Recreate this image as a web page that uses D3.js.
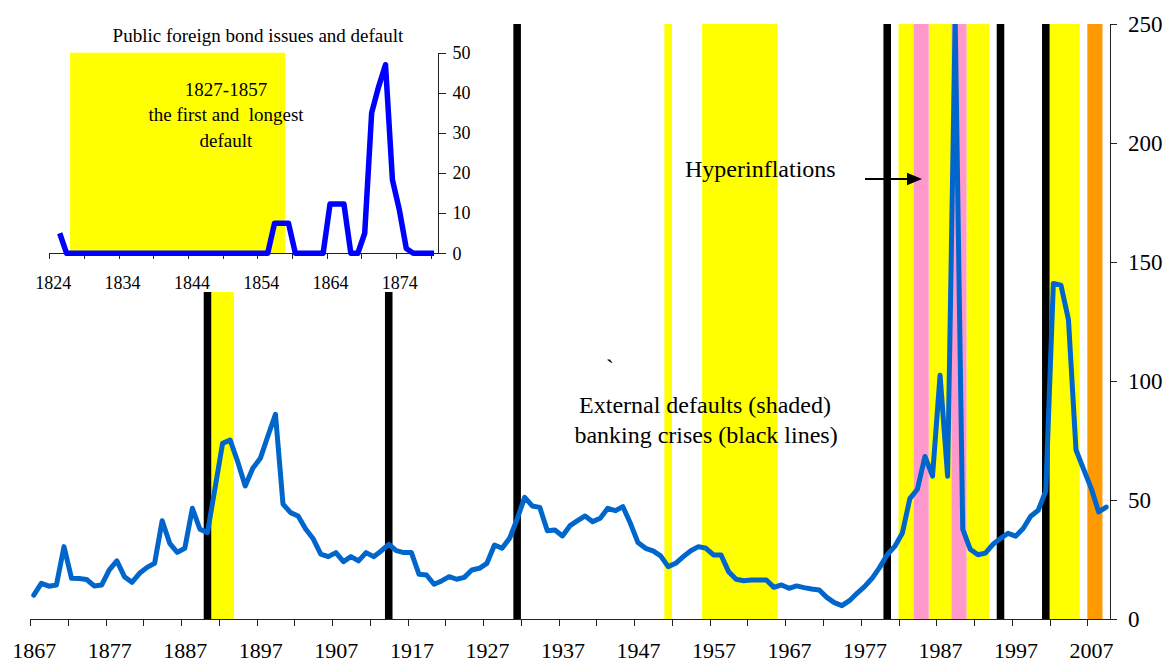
<!DOCTYPE html>
<html>
<head>
<meta charset="UTF-8">
<title></title>
<style>
    body { margin: 0; background: #fff; }
    svg { display: block; font-family: 'Liberation Serif', 'Times New Roman', serif; }
    .axis path, .axis line { stroke: #222; stroke-width: 1; shape-rendering: crispEdges; }
    .axis text { fill: #000; }
    .note { fill: #000; white-space: pre; }
</style>
</head>
<body>
<script src="https://cdn.jsdelivr.net/npm/d3@7/dist/d3.min.js"></script>
<script>
    /// data

    // main series, one value per year from 1867 to 2009
    var mainStart = 1867;
    var mainValues = [
        10, 15, 13.8, 14.3, 30.4, 17.1, 17, 16.6, 13.9, 14.3,        // 1867-1876
        20.6, 24.4, 17.8, 15.4, 19.2, 21.7, 23.4, 41.3, 31.8, 28,    // 1877-1886
        29.7, 46.5, 37.7, 36.3, 55, 73.8, 75.2, 66.1, 55.9, 63.3,    // 1887-1896
        67.5, 76.9, 86, 48.3, 44.7, 43.3, 37.8, 33.7, 27.3, 26.2,    // 1897-1906
        27.9, 24.1, 26.2, 24.4, 27.9, 26.2, 28.6, 31.4, 28.7, 27.9,  // 1907-1916
        27.9, 18.8, 18.5, 14.6, 16, 17.8, 16.7, 17.5, 20.6, 21.3,    // 1917-1926
        23.4, 31.1, 29.7, 33.9, 42, 51.1, 47.5, 46.9, 37.1, 37.4,    // 1927-1936
        34.9, 39.2, 41.3, 43.3, 40.9, 42.3, 46.5, 45.5, 47.2, 40.2,  // 1937-1946
        32.1, 29.7, 28.6, 26.5, 22, 23.4, 26.2, 28.7, 30.4, 29.7,    // 1947-1956
        26.9, 26.9, 19.9, 16.7, 16.1, 16.4, 16.4, 16.4, 13.3, 14.3,  // 1957-1966
        12.9, 13.9, 13.2, 12.6, 12.2, 9.1, 6.9, 5.6, 7.7, 10.8,      // 1967-1976
        13.6, 17.1, 21.7, 27, 30.5, 36, 50.6, 54.5, 68.3, 60,        // 1977-1986
        102.4, 60, 252, 37.8, 29.3, 27, 27.7, 31.4, 33.8, 36,        // 1987-1996
        34.8, 38, 43.2, 45.7, 53.8, 141, 140.3, 125.8, 71, 63,       // 1997-2006
        55, 45, 47                                                   // 2007-2009
    ];
    var mainTickLabels = [1867, 1877, 1887, 1897, 1907, 1917, 1927, 1937, 1947, 1957, 1967, 1977, 1987, 1997, 2007];
    var mainYTicks = [0, 50, 100, 150, 200, 250];

    // episodes (inclusive years)
    var bankingCrises = [1890, 1914, 1931, 1980, 1995, 2001];
    var defaultSpells = [[1891, 1893], [1951, 1951], [1956, 1965], [1982, 1983], [1986, 1988], [1991, 1993], [2002, 2005]];
    var hyperinflationSpells = [[1984, 1985], [1989, 1990]];
    var orangeSpells = [[2007, 2008]];

    // inset: public foreign bond issues, 1825-1879
    var insetStart = 1825;
    var insetValues = [
        5,
        0, 0, 0, 0, 0, 0, 0, 0, 0, 0,        // 1826-1835
        0, 0, 0, 0, 0, 0, 0, 0, 0, 0,        // 1836-1845
        0, 0, 0, 0, 0, 0, 0, 0, 0, 0,        // 1846-1855
        7.5, 7.5, 7.5, 0, 0, 0, 0, 0,        // 1856-1863
        12.3, 12.3, 12.3, 0, 0,              // 1864-1868
        5, 35, 41.5, 47, 18.3, 10.8, 1.2,    // 1869-1875
        0, 0, 0, 0                           // 1876-1879
    ];
    var insetDefault = [1827, 1857];
    var insetTickLabels = [1824, 1834, 1844, 1854, 1864, 1874];
    var insetYTicks = [0, 10, 20, 30, 40, 50];

    var serif = "'Liberation Serif', 'Times New Roman', serif";

    /// layout
    var width = 1168, height = 664;
    var svg = d3.select("body").append("svg")
        .attr("width", width)
        .attr("height", height);

    // category axis: each year is a slot, ticks sit between slots
    var x = d3.scaleLinear().domain([1866.5, 2009.5]).range([30, 1110]);
    var y = d3.scaleLinear().domain([0, 250]).range([619, 24]);

    var main = svg.append("g").attr("class", "main");

    svg.append("clipPath").attr("id", "plotclip")
        .append("rect").attr("x", 0).attr("y", y(250)).attr("width", width).attr("height", y(0) - y(250));

    function drawSpells(spells, color) {
        main.append("g").selectAll("rect")
            .data(spells)
            .enter().append("rect")
            .attr("x", function(d) { return x(d[0] - 0.5); })
            .attr("width", function(d) { return x(d[1] + 0.5) - x(d[0] - 0.5); })
            .attr("y", y(250))
            .attr("height", y(0) - y(250))
            .attr("fill", color);
    }
    drawSpells(defaultSpells, "#ffff00");
    drawSpells(hyperinflationSpells, "#ff99cc");
    drawSpells(orangeSpells, "#ff9900");
    drawSpells(bankingCrises.map(function(d) { return [d, d]; }), "#000");

    var line = d3.line()
        .x(function(d, i) { return x(mainStart + i); })
        .y(function(d) { return y(d); });

    main.append("path")
        .datum(mainValues)
        .attr("clip-path", "url(#plotclip)")
        .attr("fill", "none")
        .attr("stroke", "#0066cc")
        .attr("stroke-width", 5)
        .attr("stroke-linejoin", "round")
        .attr("stroke-linecap", "round")
        .attr("d", line);

    // x axis: ticks every 5 slots, labels every 10 years
    main.append("g").attr("class", "axis")
        .attr("transform", "translate(0," + y(0) + ")")
        .call(d3.axisBottom(x).tickValues(d3.range(1866.5, 2010, 5)).tickFormat("").tickSize(7).tickSizeOuter(0));
    var xl = main.append("g").attr("class", "axis")
        .attr("transform", "translate(0," + y(0) + ")")
        .call(d3.axisBottom(x).tickValues(mainTickLabels).tickFormat(d3.format("d")).tickSize(0));
    xl.select(".domain").remove();
    xl.attr("font-family", serif);
    xl.selectAll("text").attr("y", 39).attr("dy", 0).style("font-size", "22px");

    var yr = main.append("g").attr("class", "axis")
        .attr("transform", "translate(" + x(2009.5) + ",0)")
        .call(d3.axisRight(y).tickValues(mainYTicks).tickSize(7).tickSizeOuter(0).tickPadding(11));
    yr.attr("font-family", serif);
    yr.selectAll("text").style("font-size", "23px");

    /// inset
    var xi = d3.scaleLinear().domain([1823.5, 1879.5]).range([49.3, 437.5]);
    var yi = d3.scaleLinear().domain([0, 50]).range([253.3, 52.7]);

    var inset = svg.append("g").attr("class", "inset");
    inset.append("rect")
        .attr("x", 0).attr("y", 0).attr("width", 470).attr("height", 292)
        .attr("fill", "#fff");

    inset.append("rect")
        .attr("x", xi(insetDefault[0] - 0.5))
        .attr("width", xi(insetDefault[1] + 0.5) - xi(insetDefault[0] - 0.5))
        .attr("y", yi(50))
        .attr("height", yi(0) - yi(50))
        .attr("fill", "#ffff00");

    var iline = d3.line()
        .x(function(d, i) { return xi(insetStart + i); })
        .y(function(d) { return yi(d); });

    inset.append("g").attr("class", "axis")
        .attr("transform", "translate(0," + yi(0) + ")")
        .call(d3.axisBottom(xi).tickValues(d3.range(1823.5, 1880, 5)).tickFormat("").tickSize(6).tickSizeOuter(0));
    var il = inset.append("g").attr("class", "axis")
        .attr("transform", "translate(0," + yi(0) + ")")
        .call(d3.axisBottom(xi).tickValues(insetTickLabels).tickFormat(d3.format("d")).tickSize(0));
    il.select(".domain").remove();
    il.attr("font-family", serif);
    il.selectAll("text").attr("y", 36).attr("dy", 0).style("font-size", "18px");

    var iy = inset.append("g").attr("class", "axis")
        .attr("transform", "translate(" + xi(1879.5) + ",0)")
        .call(d3.axisRight(yi).tickValues(insetYTicks).tickSize(8).tickSizeOuter(0).tickPadding(7));
    iy.attr("font-family", serif);
    iy.selectAll("text").style("font-size", "18px");

    inset.append("path")
        .datum(insetValues)
        .attr("fill", "none")
        .attr("stroke", "#0000ff")
        .attr("stroke-width", 5.5)
        .attr("stroke-linejoin", "round")
        .attr("d", iline);

    inset.append("text").attr("class", "note")
        .attr("x", 258).attr("y", 42).attr("text-anchor", "middle")
        .style("font-size", "19px")
        .text("Public foreign bond issues and default");

    var insetNote = ["1827-1857", "the first and  longest", "default"];
    inset.selectAll("text.inote")
        .data(insetNote)
        .enter().append("text")
        .attr("class", "note inote")
        .attr("x", 226)
        .attr("y", function(d, i) { return 96 + i * 25.3; })
        .attr("text-anchor", "middle")
        .style("font-size", "19px")
        .text(function(d) { return d; });

    /// annotations
    svg.append("text").attr("class", "note")
        .attr("x", 685).attr("y", 177)
        .style("font-size", "24px")
        .text("Hyperinflations");

    svg.append("line")
        .attr("x1", 865).attr("x2", 909).attr("y1", 179).attr("y2", 179)
        .attr("stroke", "#000").attr("stroke-width", 2);
    svg.append("path")
        .attr("d", "M907,172.7L922,179L907,185.3Z")
        .attr("fill", "#000");

    svg.append("text").attr("class", "note")
        .attr("x", 606).attr("y", 376)
        .style("font-size", "24px")
        .text("`");

    svg.append("text").attr("class", "note")
        .attr("x", 705).attr("y", 413).attr("text-anchor", "middle")
        .style("font-size", "24px")
        .text("External defaults (shaded)");
    svg.append("text").attr("class", "note")
        .attr("x", 706).attr("y", 443).attr("text-anchor", "middle")
        .style("font-size", "24px")
        .text("banking crises (black lines)");
</script>
</body>
</html>
